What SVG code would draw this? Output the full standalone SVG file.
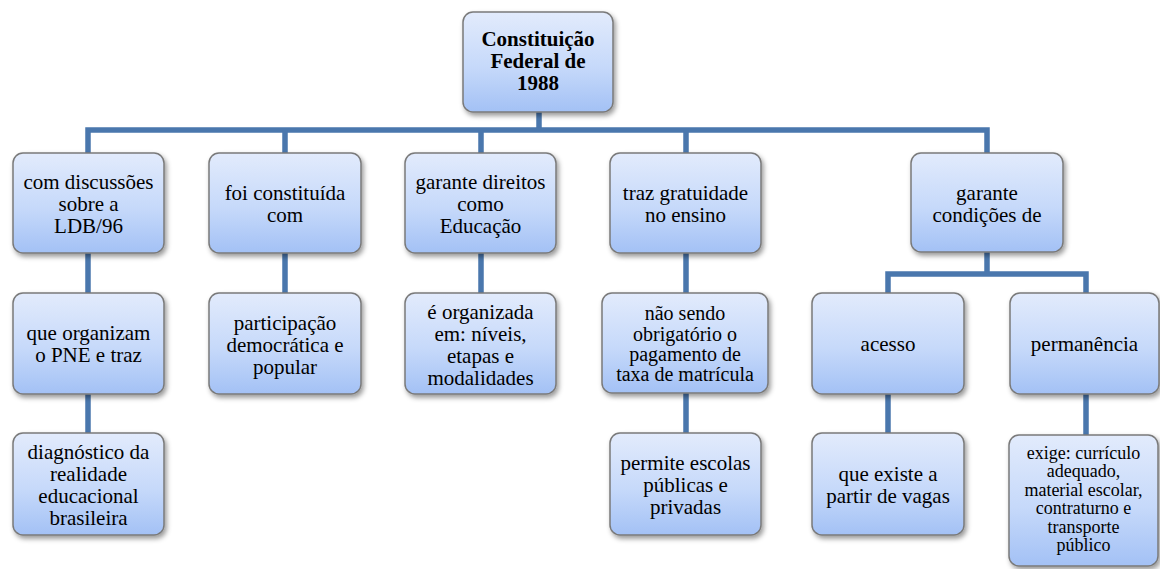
<svg xmlns="http://www.w3.org/2000/svg" width="1160" height="569" viewBox="0 0 1160 569">
<defs>
  <linearGradient id="g" x1="0" y1="0" x2="0" y2="1">
    <stop offset="0" stop-color="#e2ebfc"/>
    <stop offset="0.55" stop-color="#c6d9fa"/>
    <stop offset="1" stop-color="#a3c1f5"/>
  </linearGradient>
  <filter id="sh" x="-10%" y="-10%" width="125%" height="130%">
    <feDropShadow dx="2" dy="3" stdDeviation="2.5" flood-color="#000" flood-opacity="0.4"/>
  </filter>
</defs>
<style>
  .box { fill: url(#g); stroke: #7a7a7a; stroke-width: 1.5; filter: url(#sh); }
  .t { font-family: 'Liberation Serif', 'DejaVu Serif', serif; font-size: 21px; fill: #000; text-anchor: middle; }
  .b { font-weight: bold; }
  .s { font-size: 18px; }
  .m { font-size: 20px; }
  .c { fill: none; stroke: #4a77ad; stroke-width: 5.5; }
</style>
<rect width="1160" height="569" fill="#fff"/>
<g id="connectors">
  <path class="c" d="M539 112 V130"/>
  <path class="c" d="M88 153 V130 H987 V153"/>
  <path class="c" d="M285 130 V153 M481 130 V153 M686 130 V153"/>
  <path class="c" d="M88 253 V293 M285 253 V293 M481 253 V293 M686 253 V293"/>
  <path class="c" d="M987 252 V274"/>
  <path class="c" d="M888 293 V274 H1086 V293"/>
  <path class="c" d="M88 394 V433 M686 393 V433 M888 394 V433 M1086 394 V435"/>
</g>
<g id="n0">
  <rect class="box" x="463" y="12" width="150" height="100" rx="10"/>
  <text class="t b"><tspan x="538" y="46">Constituição</tspan><tspan x="538" y="68">Federal de</tspan><tspan x="538" y="90">1988</tspan></text>
</g>
<g id="n1">
  <rect class="box" x="13" y="153" width="151" height="100" rx="10"/>
  <text class="t"><tspan x="88.5" y="189">com discussões</tspan><tspan x="88.5" y="211">sobre a</tspan><tspan x="88.5" y="233">LDB/96</tspan></text>
</g>
<g id="n2">
  <rect class="box" x="209" y="153" width="152" height="100" rx="10"/>
  <text class="t"><tspan x="285" y="200">foi constituída</tspan><tspan x="285" y="222">com</tspan></text>
</g>
<g id="n3">
  <rect class="box" x="405" y="153" width="151" height="100" rx="10"/>
  <text class="t"><tspan x="480.5" y="189">garante direitos</tspan><tspan x="480.5" y="211">como</tspan><tspan x="480.5" y="233">Educação</tspan></text>
</g>
<g id="n4">
  <rect class="box" x="610" y="153" width="151" height="100" rx="10"/>
  <text class="t"><tspan x="685.5" y="200">traz gratuidade</tspan><tspan x="685.5" y="222">no ensino</tspan></text>
</g>
<g id="n5">
  <rect class="box" x="911" y="153" width="152" height="99" rx="10"/>
  <text class="t"><tspan x="987" y="200">garante</tspan><tspan x="987" y="222">condições de</tspan></text>
</g>
<g id="n6">
  <rect class="box" x="13" y="293" width="151" height="101" rx="10"/>
  <text class="t"><tspan x="88.5" y="340">que organizam</tspan><tspan x="88.5" y="362">o PNE e traz</tspan></text>
</g>
<g id="n7">
  <rect class="box" x="209" y="293" width="152" height="101" rx="10"/>
  <text class="t"><tspan x="285" y="330">participação</tspan><tspan x="285" y="352">democrática e</tspan><tspan x="285" y="374">popular</tspan></text>
</g>
<g id="n8">
  <rect class="box" x="405" y="293" width="151" height="101" rx="10"/>
  <text class="t"><tspan x="480.5" y="319">é organizada</tspan><tspan x="480.5" y="341">em: níveis,</tspan><tspan x="480.5" y="363">etapas e</tspan><tspan x="480.5" y="385">modalidades</tspan></text>
</g>
<g id="n9">
  <rect class="box" x="602" y="293" width="166" height="100" rx="10"/>
  <text class="t m"><tspan x="685" y="320">não sendo</tspan><tspan x="685" y="341">obrigatório o</tspan><tspan x="685" y="361">pagamento de</tspan><tspan x="685" y="381">taxa de matrícula</tspan></text>
</g>
<g id="n10">
  <rect class="box" x="812" y="293" width="152" height="101" rx="10"/>
  <text class="t" x="888" y="351">acesso</text>
</g>
<g id="n11">
  <rect class="box" x="1010" y="293" width="149" height="101" rx="10"/>
  <text class="t" x="1084.5" y="351">permanência</text>
</g>
<g id="n12">
  <rect class="box" x="13" y="433" width="151" height="102" rx="10"/>
  <text class="t"><tspan x="88.5" y="459">diagnóstico da</tspan><tspan x="88.5" y="481">realidade</tspan><tspan x="88.5" y="503">educacional</tspan><tspan x="88.5" y="525">brasileira</tspan></text>
</g>
<g id="n13">
  <rect class="box" x="610" y="433" width="151" height="102" rx="10"/>
  <text class="t"><tspan x="685.5" y="470">permite escolas</tspan><tspan x="685.5" y="492">públicas e</tspan><tspan x="685.5" y="514">privadas</tspan></text>
</g>
<g id="n14">
  <rect class="box" x="812" y="433" width="152" height="102" rx="10"/>
  <text class="t"><tspan x="888" y="481">que existe a</tspan><tspan x="888" y="503">partir de vagas</tspan></text>
</g>
<g id="n15">
  <rect class="box" x="1009" y="435" width="149" height="131" rx="10"/>
  <text class="t s"><tspan x="1083.5" y="459">exige: currículo</tspan><tspan x="1083.5" y="477">adequado,</tspan><tspan x="1083.5" y="496">material escolar,</tspan><tspan x="1083.5" y="514">contraturno e</tspan><tspan x="1083.5" y="533">transporte</tspan><tspan x="1083.5" y="551">público</tspan></text>
</g>
</svg>
